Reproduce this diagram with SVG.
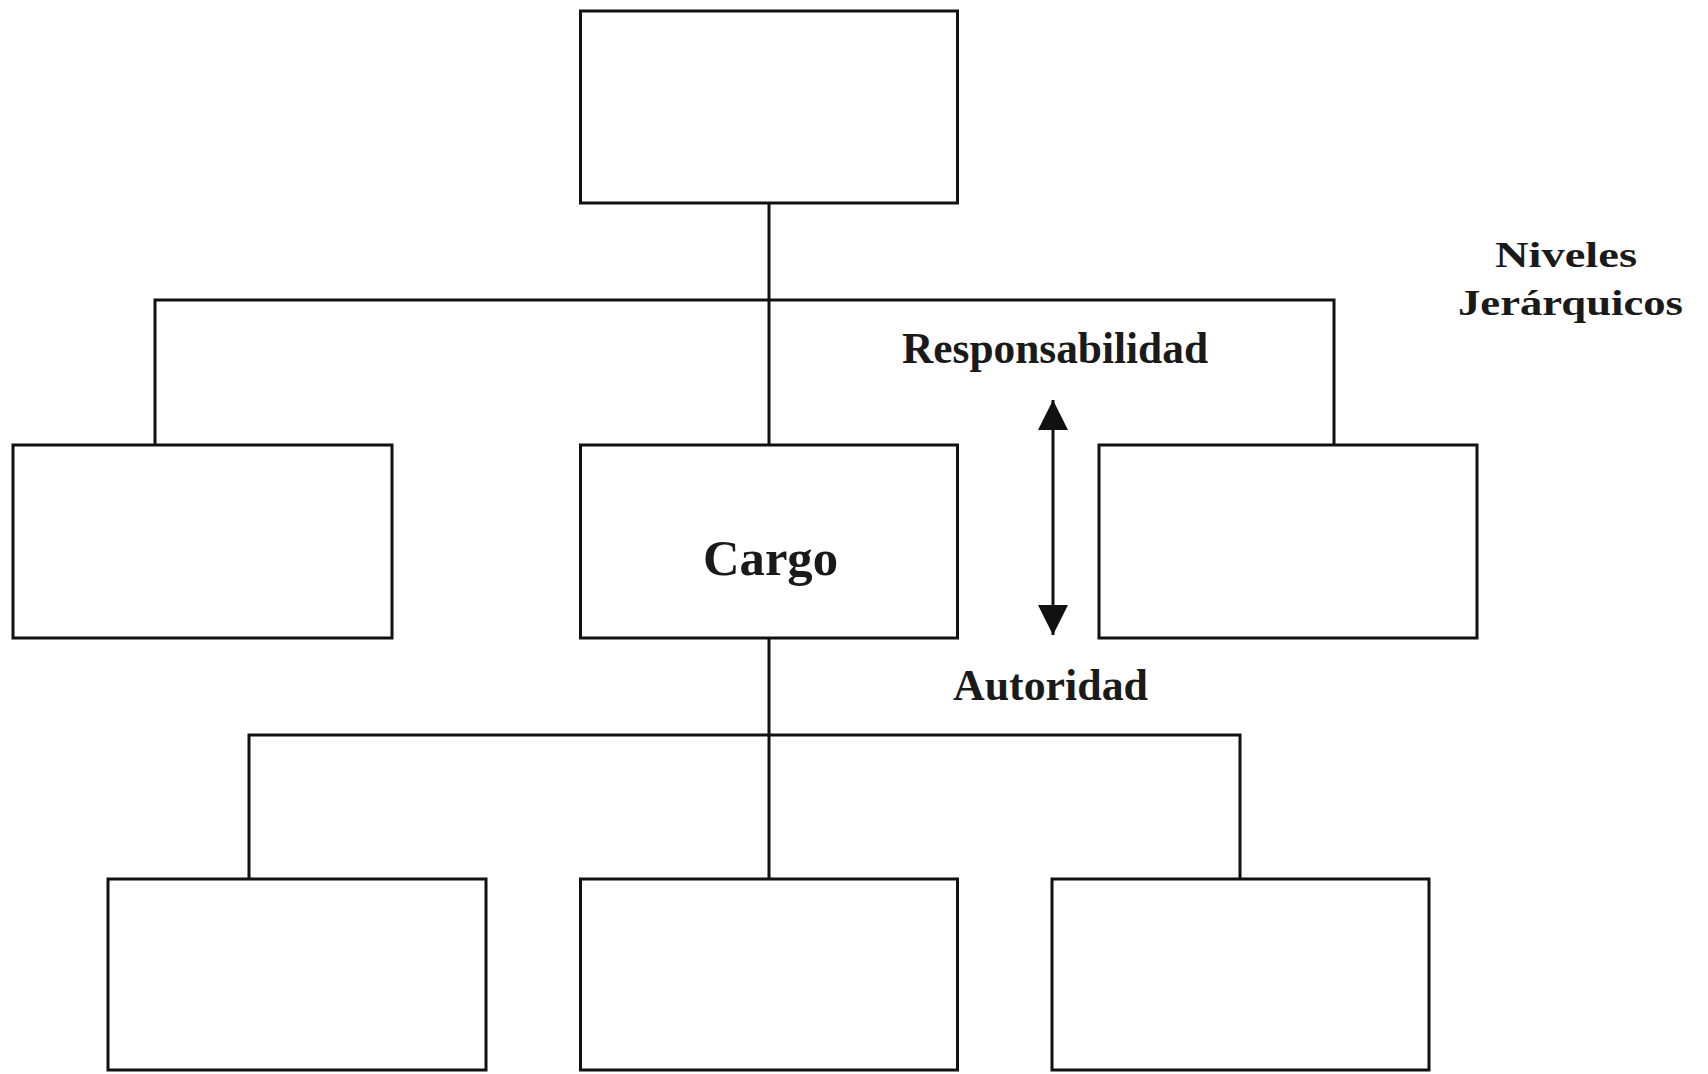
<svg xmlns="http://www.w3.org/2000/svg" width="1708" height="1074" viewBox="0 0 1708 1074">
<style>
.box{fill:#fff;stroke:#111;stroke-width:3}
.conn{fill:none;stroke:#111;stroke-width:3}
.lbl{font-family:"Liberation Serif","Times New Roman",serif;font-weight:bold;fill:#1a1a1a}
</style>
<defs>
<marker id="ah" viewBox="0 0 30 30" refX="30" refY="15" markerWidth="30" markerHeight="30" markerUnits="userSpaceOnUse" orient="auto-start-reverse">
<path d="M0,0 L30,15 L0,30 Z" fill="#111"/>
</marker>
</defs>
<rect width="1708" height="1074" fill="#fff"/>
<g id="connectors">
<path class="conn" d="M769,203 V445 M155,445 V300 H1334 V445"/>
<path class="conn" d="M769,638 V879 M249,879 V735 H1240 V879"/>
<line class="conn" x1="1053" y1="400" x2="1053" y2="635" stroke="#333" marker-start="url(#ah)" marker-end="url(#ah)"/>
</g>
<g id="node-top"><rect class="box" x="580.5" y="11" width="377" height="192"/></g>
<g id="node-left"><rect class="box" x="13" y="445" width="379" height="193"/></g>
<g id="node-cargo"><rect class="box" x="580.5" y="445" width="377" height="193"/>
<text class="lbl" x="703" y="575" font-size="51" textLength="135" lengthAdjust="spacingAndGlyphs">Cargo</text></g>
<g id="node-right"><rect class="box" x="1099" y="445" width="378" height="193"/></g>
<g id="node-bl"><rect class="box" x="108" y="879" width="378" height="191"/></g>
<g id="node-bm"><rect class="box" x="580.5" y="879" width="377" height="191"/></g>
<g id="node-br"><rect class="box" x="1052" y="879" width="377" height="191"/></g>
<g id="labels">
<text class="lbl" x="902" y="363" font-size="44" textLength="306" lengthAdjust="spacingAndGlyphs">Responsabilidad</text>
<text class="lbl" x="953" y="700" font-size="44" textLength="195" lengthAdjust="spacingAndGlyphs">Autoridad</text>
<text class="lbl" x="1495" y="267" font-size="36" textLength="142" lengthAdjust="spacingAndGlyphs">Niveles</text>
<text class="lbl" x="1458" y="315" font-size="36" textLength="225" lengthAdjust="spacingAndGlyphs">Jerárquicos</text>
</g>
</svg>
